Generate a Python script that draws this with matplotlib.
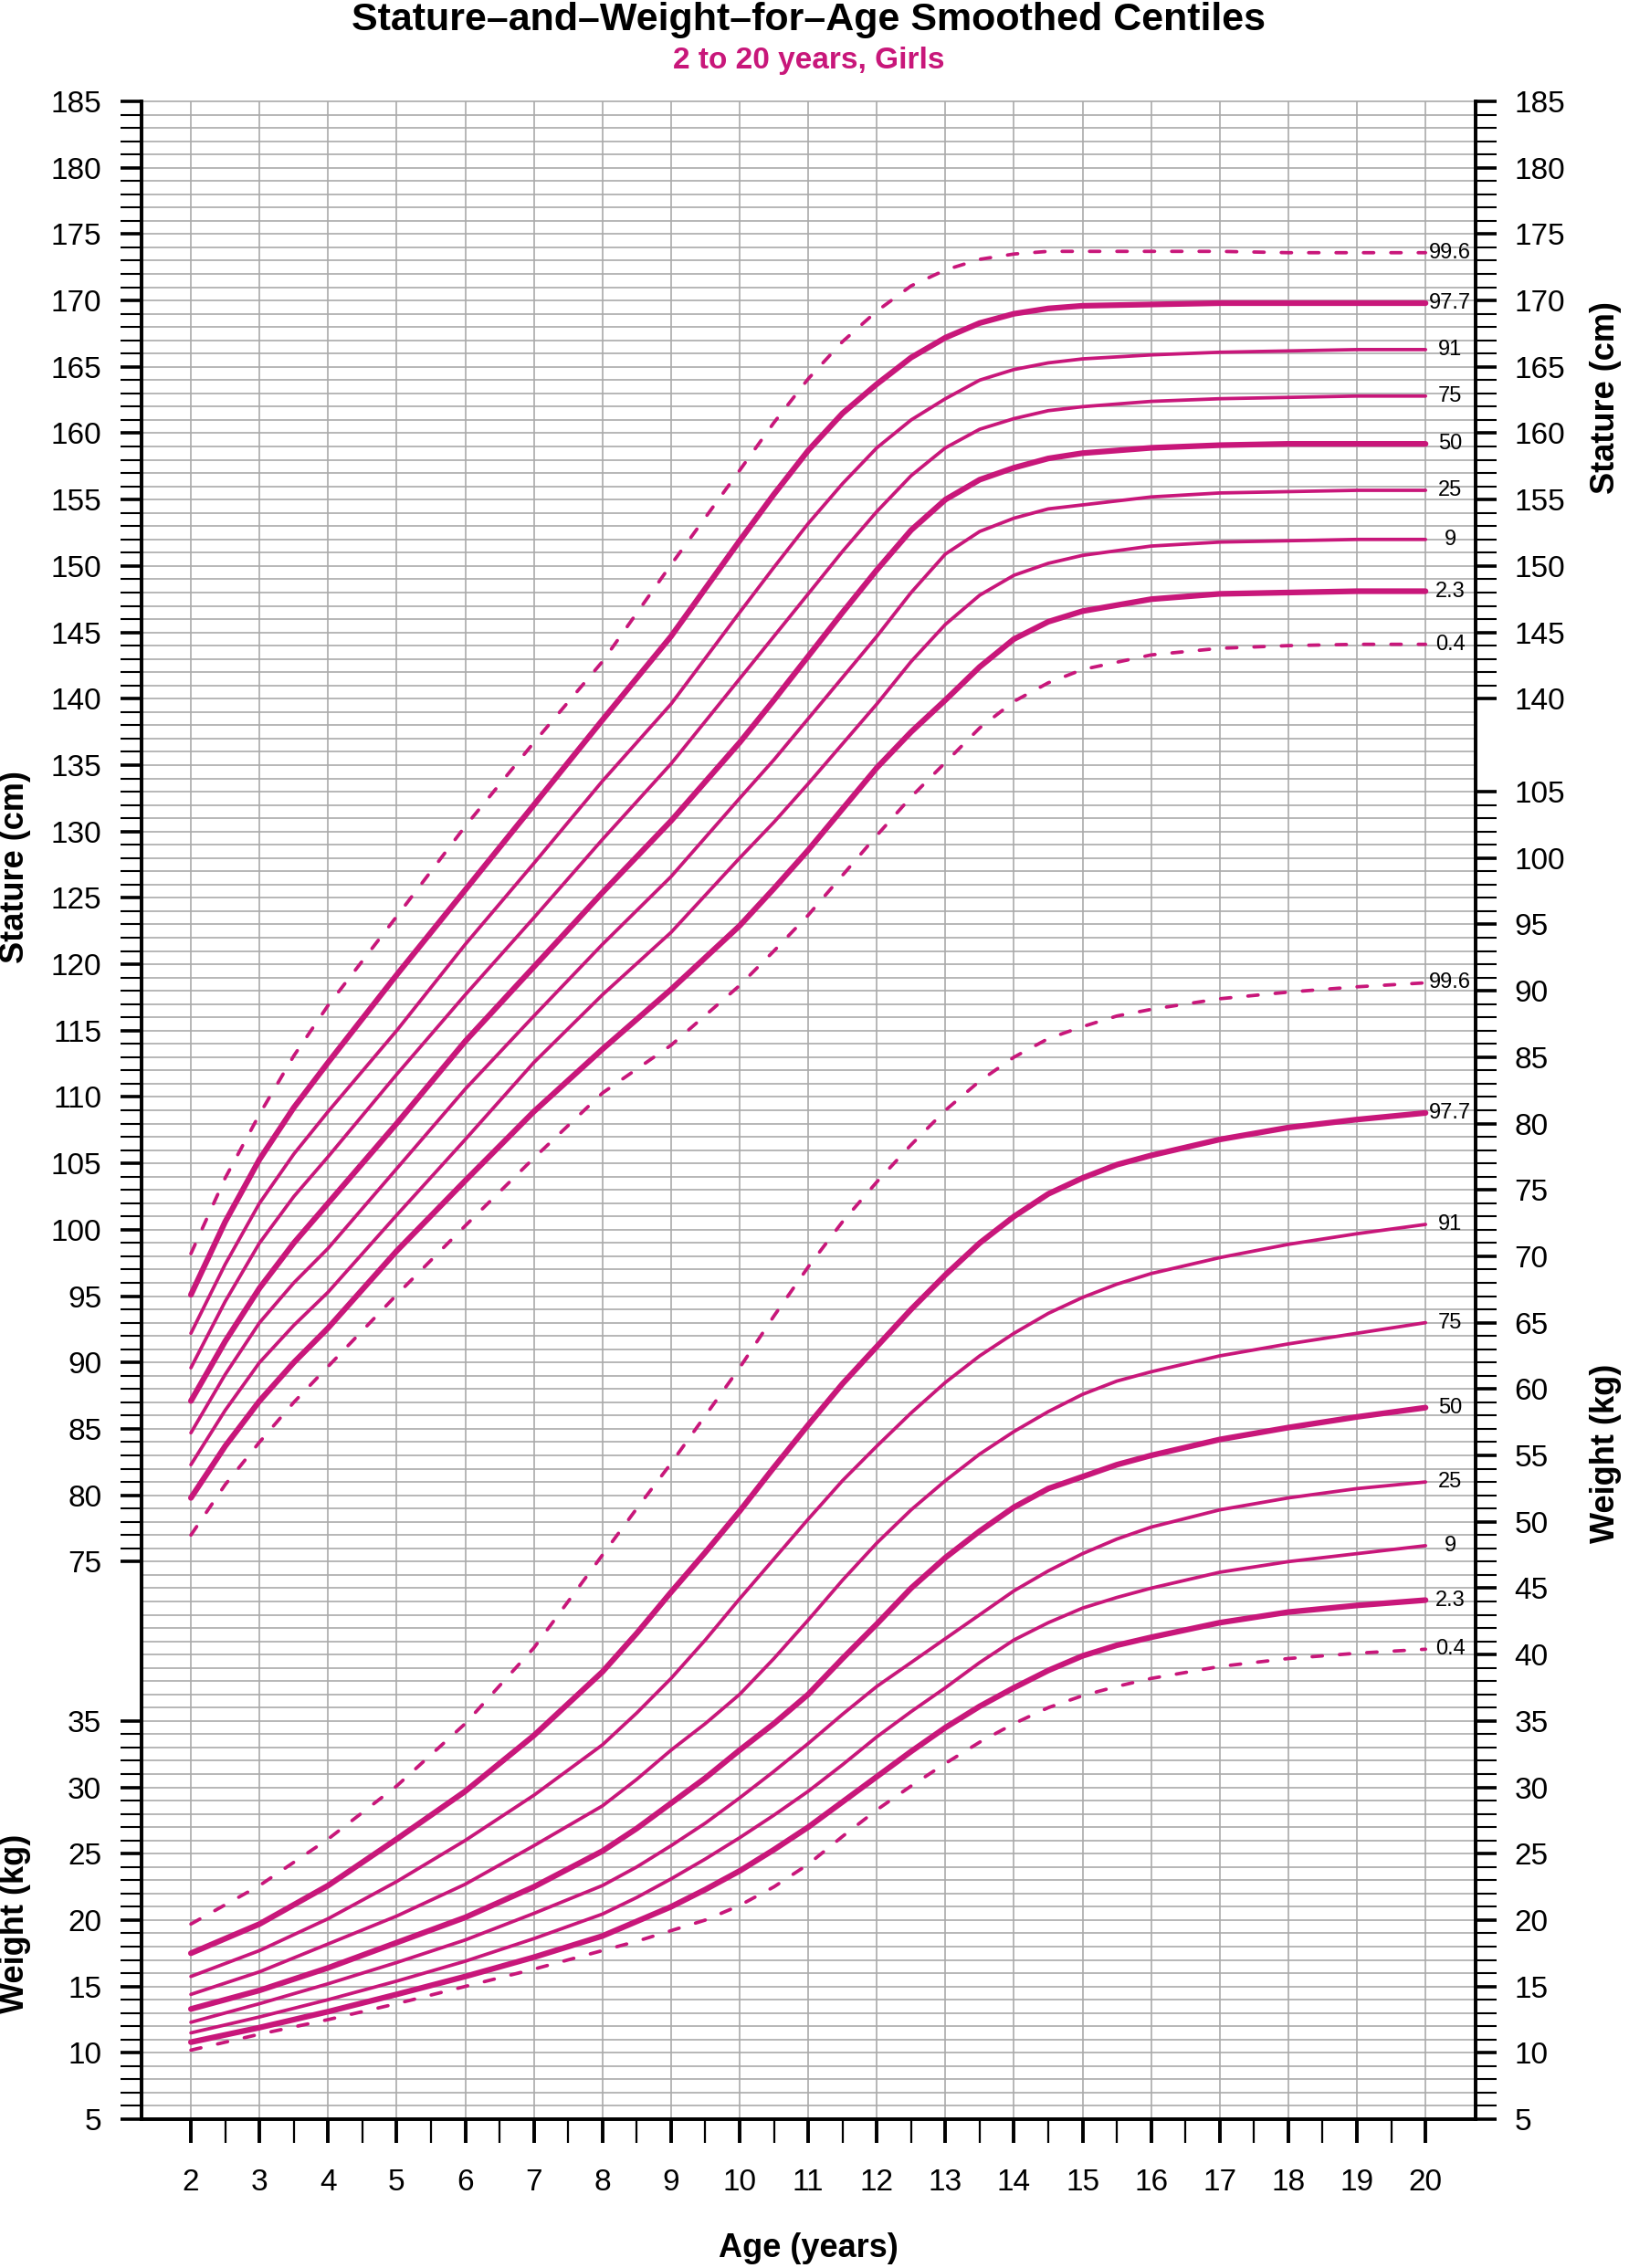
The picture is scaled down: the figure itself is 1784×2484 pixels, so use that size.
import matplotlib.pyplot as plt
import numpy as np

plt.rcParams['font.family'] = ['Liberation Sans', 'DejaVu Sans']

MAGENTA = '#c8177a'
GRID = '#aaaaaa'

# weight is drawn on the same ruler as stature, shifted by this many units
WEIGHT_OFFSET = 28

centiles = ['0.4', '2.3', '9', '25', '50', '75', '91', '97.7', '99.6']

# ---- stature (cm) ----
stature_ages = [2, 2.5, 3, 3.5, 4, 5, 6, 7, 8, 9, 10, 10.5, 11, 11.5, 12, 12.5, 13, 13.5,
                14, 14.5, 15, 16, 17, 18, 19, 20]
stature_0_4 = [77.0, 80.8, 84.0, 87.0, 89.7, 95.1, 100.3, 105.4, 110.3, 113.9, 118.4, 121.0, 123.7,
               126.7, 129.7, 132.6, 135.2, 137.8, 139.8, 141.2, 142.2, 143.3, 143.8, 144.0, 144.1, 144.1]
stature_2_3 = [79.8, 83.7, 87.1, 90.0, 92.6, 98.4, 103.7, 108.9, 113.6, 118.1, 122.9, 125.7, 128.6,
               131.7, 134.8, 137.5, 139.9, 142.4, 144.5, 145.8, 146.6, 147.5, 147.9, 148.0, 148.1, 148.1]
stature_9 = [82.3, 86.4, 90.0, 92.8, 95.3, 101.1, 106.8, 112.6, 117.7, 122.4, 128.0, 130.7, 133.6,
             136.6, 139.6, 142.8, 145.6, 147.8, 149.3, 150.2, 150.8, 151.5, 151.8, 151.9, 152.0, 152.0]
stature_25 = [84.7, 89.1, 93.0, 96.0, 98.6, 104.6, 110.6, 116.1, 121.5, 126.6, 132.5, 135.4, 138.5,
              141.6, 144.7, 148.0, 150.9, 152.6, 153.6, 154.3, 154.6, 155.2, 155.5, 155.6, 155.7, 155.7]
stature_50 = [87.1, 91.6, 95.6, 99.0, 102.0, 108.0, 114.2, 119.8, 125.4, 130.8, 136.7, 139.9, 143.2,
              146.5, 149.7, 152.7, 155.0, 156.5, 157.4, 158.1, 158.5, 158.9, 159.1, 159.2, 159.2, 159.2]
stature_75 = [89.6, 94.6, 99.0, 102.5, 105.5, 111.7, 117.7, 123.5, 129.4, 135.1, 141.5, 144.7, 147.9,
              151.1, 154.1, 156.8, 158.9, 160.3, 161.1, 161.7, 162.0, 162.4, 162.6, 162.7, 162.8, 162.8]
stature_91 = [92.2, 97.4, 102.0, 105.7, 108.9, 115.0, 121.5, 127.6, 133.8, 139.6, 146.5, 149.9, 153.2,
              156.2, 158.9, 161.0, 162.6, 164.0, 164.8, 165.3, 165.6, 165.9, 166.1, 166.2, 166.3, 166.3]
stature_97_7 = [95.1, 100.6, 105.3, 109.2, 112.6, 119.2, 125.6, 132.0, 138.4, 144.7, 151.9, 155.4, 158.7,
                161.5, 163.7, 165.7, 167.2, 168.3, 169.0, 169.4, 169.6, 169.7, 169.8, 169.8, 169.8, 169.8]
stature_99_6 = [98.2, 103.9, 108.7, 113.1, 116.9, 123.6, 130.4, 136.7, 142.8, 150.1, 157.2, 160.8, 164.1,
                166.9, 169.2, 171.1, 172.3, 173.1, 173.5, 173.7, 173.7, 173.7, 173.7, 173.6, 173.6, 173.6]

# ---- weight (kg) ----
weight_ages = [2, 3, 4, 5, 6, 7, 8, 8.5, 9, 9.5, 10, 10.5, 11, 11.5, 12, 12.5, 13, 13.5,
               14, 14.5, 15, 15.5, 16, 17, 18, 19, 20]
weight_0_4 = [10.2, 11.4, 12.5, 13.7, 15.0, 16.3, 17.7, 18.4, 19.2, 20.0, 21.1, 22.5, 24.2, 26.3,
              28.3, 30.1, 31.8, 33.4, 34.8, 36.0, 36.9, 37.6, 38.2, 39.1, 39.7, 40.1, 40.4]
weight_2_3 = [10.8, 11.9, 13.1, 14.4, 15.75, 17.2, 18.8, 19.9, 21.0, 22.3, 23.7, 25.3, 27.0, 28.9,
              30.8, 32.7, 34.5, 36.1, 37.5, 38.8, 39.9, 40.7, 41.3, 42.4, 43.2, 43.7, 44.1]
weight_9 = [11.5, 12.7, 14.0, 15.4, 16.9, 18.6, 20.45, 21.7, 23.1, 24.6, 26.2, 27.9, 29.7, 31.7,
            33.8, 35.7, 37.5, 39.4, 41.1, 42.4, 43.5, 44.3, 45.0, 46.2, 47.0, 47.6, 48.2]
weight_25 = [12.3, 13.7, 15.2, 16.8, 18.5, 20.5, 22.6, 24.0, 25.6, 27.3, 29.2, 31.2, 33.3, 35.5,
             37.6, 39.4, 41.2, 43.0, 44.8, 46.3, 47.6, 48.7, 49.6, 50.9, 51.8, 52.5, 53.0]
weight_50 = [13.3, 14.7, 16.4, 18.3, 20.2, 22.5, 25.2, 26.9, 28.8, 30.7, 32.8, 34.8, 37.0, 39.7,
             42.3, 45.0, 47.3, 49.3, 51.1, 52.5, 53.4, 54.3, 55.0, 56.2, 57.1, 57.9, 58.6]
weight_75 = [14.4, 16.1, 18.2, 20.3, 22.7, 25.6, 28.6, 30.6, 32.8, 34.8, 37.0, 39.7, 42.6, 45.6,
             48.4, 50.9, 53.1, 55.1, 56.8, 58.3, 59.6, 60.6, 61.3, 62.5, 63.4, 64.2, 65.0]
weight_91 = [15.75, 17.7, 20.1, 22.9, 26.0, 29.4, 33.2, 35.6, 38.2, 41.1, 44.2, 47.2, 50.2, 53.1,
             55.7, 58.2, 60.5, 62.5, 64.2, 65.7, 66.9, 67.9, 68.7, 69.9, 70.9, 71.7, 72.4]
weight_97_7 = [17.5, 19.7, 22.6, 26.1, 29.7, 33.9, 38.7, 41.6, 44.7, 47.7, 50.8, 54.1, 57.3, 60.4,
               63.2, 66.0, 68.6, 71.0, 73.0, 74.7, 75.9, 76.9, 77.6, 78.8, 79.7, 80.3, 80.8]
weight_99_6 = [19.7, 22.6, 26.1, 30.1, 34.8, 40.5, 47.5, 51.0, 54.4, 58.0, 61.6, 65.5, 69.2, 72.6,
               75.6, 78.4, 81.0, 83.2, 85.0, 86.4, 87.3, 88.1, 88.6, 89.4, 89.9, 90.3, 90.6]

stature_series = [stature_0_4, stature_2_3, stature_9, stature_25, stature_50,
                  stature_75, stature_91, stature_97_7, stature_99_6]
weight_series = [weight_0_4, weight_2_3, weight_9, weight_25, weight_50,
                 weight_75, weight_91, weight_97_7, weight_99_6]

# axis ranges with labels
stature_left = np.arange(75, 186)
weight_left = np.arange(5, 36)
stature_right = np.arange(140, 186)
weight_right = np.arange(5, 106)

W, H = 1784, 2484
fig = plt.figure(figsize=(W / 100, H / 100), dpi=100)
ax = fig.add_axes([155 / W, 1 - 2321 / H, (1616 - 155) / W, (2321 - 111) / H])
ax.set_xlim(1.28, 20.73)
ax.set_ylim(33, 185)

# grid: every unit across, every year down
for v in range(33, 186):
    ax.axhline(v, color=GRID, lw=1.2, zorder=1, clip_on=False)
for a in range(2, 21):
    ax.axvline(a, color=GRID, lw=1.2, zorder=1)


def style(name):
    if name in ('0.4', '99.6'):
        return dict(lw=2.7, linestyle=(0, (3, 5)), dash_capstyle='round')
    if name in ('2.3', '50', '97.7'):
        return dict(lw=4.5, solid_capstyle='round')
    return dict(lw=2.7, solid_capstyle='round')


for name, s, w in zip(centiles, stature_series, weight_series):
    st = style(name)
    ax.plot(stature_ages, s, color=MAGENTA, zorder=3, **st)
    ax.plot(weight_ages, np.array(w) + WEIGHT_OFFSET, color=MAGENTA, zorder=3, **st)
    ax.text(20.36, s[-1], name, fontsize=17, ha='center', va='center', zorder=4)
    ax.text(20.36, w[-1] + WEIGHT_OFFSET, name, fontsize=17, ha='center', va='center', zorder=4)

# x axis
ax.set_xticks(range(2, 21))
ax.set_xticks(np.arange(2.5, 20, 1), minor=True)
ax.tick_params(axis='x', which='major', length=19, width=2.8, labelsize=24, pad=20)
ax.tick_params(axis='x', which='minor', length=19, width=1.6)

# left axis: weight below, stature above
left_major = [v for v in weight_left if v % 5 == 0]
left_major_st = [v for v in stature_left if v % 5 == 0]
ax.set_yticks([v + WEIGHT_OFFSET for v in left_major] + left_major_st)
ax.set_yticklabels([str(v) for v in left_major] + [str(v) for v in left_major_st])
ax.set_yticks([v + WEIGHT_OFFSET for v in weight_left if v % 5] +
              [v for v in stature_left if v % 5], minor=True)
ax.tick_params(axis='y', which='major', length=16.5, width=2.6, labelsize=24, pad=15)
ax.tick_params(axis='y', which='minor', length=16.5, width=1.5)

# right axis
ax2 = ax.twinx()
ax2.set_ylim(33, 185)
right_major = [v for v in weight_right if v % 5 == 0]
right_major_st = [v for v in stature_right if v % 5 == 0]
ax2.set_yticks([v + WEIGHT_OFFSET for v in right_major] + right_major_st)
ax2.set_yticklabels([str(v) for v in right_major] + [str(v) for v in right_major_st])
ax2.set_yticks([v + WEIGHT_OFFSET for v in weight_right if v % 5] +
               [v for v in stature_right if v % 5], minor=True)
ax2.tick_params(axis='y', which='major', length=16.5, width=2.6, labelsize=24, pad=14)
ax2.tick_params(axis='y', which='minor', length=16.5, width=1.5)

for a in (ax, ax2):
    a.spines['top'].set_visible(False)
    for side in ('left', 'right', 'bottom'):
        a.spines[side].set_linewidth(2.6)
        a.spines[side].set_zorder(5)

# texts
cx = 885.5 / W
fig.text(cx, 1 - 22 / H, 'Stature\u2013and\u2013Weight\u2013for\u2013Age Smoothed Centiles',
         ha='center', va='center', fontsize=31, weight='bold')
fig.text(cx, 1 - 66 / H, '2 to 20 years, Girls', ha='center', va='center',
         fontsize=24, weight='bold', color=MAGENTA)
fig.text(cx, 1 - 2462 / H, 'Age (years)', ha='center', va='center', fontsize=26, weight='bold')
fig.text(17 / W, 1 - 950 / H, 'Stature (cm)', rotation=90, ha='center', va='center',
         fontsize=26, weight='bold')
fig.text(17 / W, 1 - 2107 / H, 'Weight (kg)', rotation=90, ha='center', va='center',
         fontsize=26, weight='bold')
fig.text(1759 / W, 1 - 436 / H, 'Stature (cm)', rotation=90, ha='center', va='center',
         fontsize=26, weight='bold')
fig.text(1759 / W, 1 - 1592 / H, 'Weight (kg)', rotation=90, ha='center', va='center',
         fontsize=26, weight='bold')

fig.savefig('out.png', dpi=100)
